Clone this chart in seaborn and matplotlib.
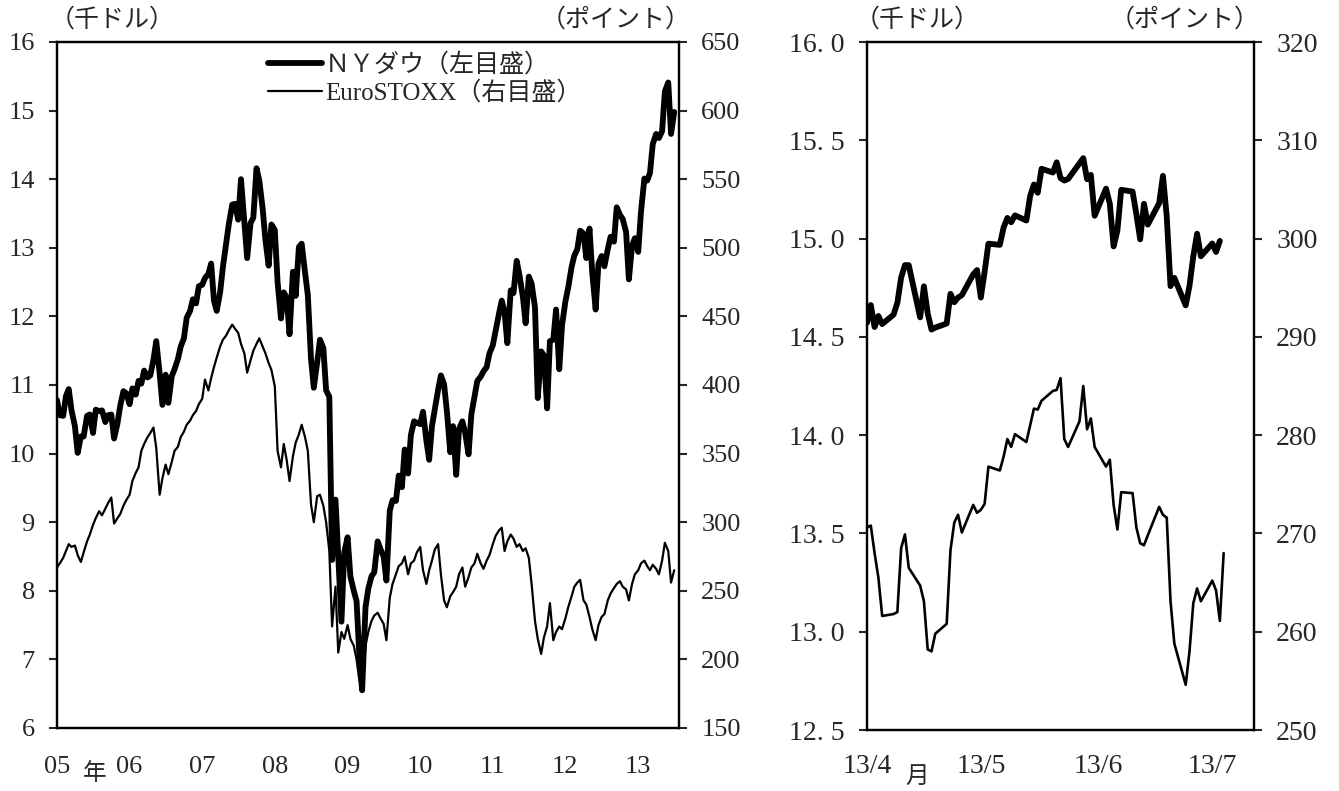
import matplotlib
matplotlib.use('Agg')
import matplotlib.pyplot as plt
import matplotlib.dates as mdates
import seaborn as sns
import pandas as pd

# ---- long view: semi-monthly points, 2005/1 - 2013/7 ----
# NY Dow (thousand dollars, left scale)
dow_2005 = [10.78, 10.56, 10.55, 10.84, 10.94, 10.63, 10.40, 10.01, 10.25, 10.25, 10.55, 10.57,
            10.30, 10.64, 10.62, 10.63, 10.46, 10.56, 10.57, 10.22, 10.44, 10.70, 10.91, 10.88]
dow_2006 = [10.72, 10.95, 10.86, 11.06, 11.02, 11.21, 11.11, 11.14, 11.37, 11.64, 11.17, 10.71,
            11.15, 10.74, 11.13, 11.23, 11.38, 11.56, 11.68, 11.98, 12.08, 12.25, 12.19, 12.44]
dow_2007 = [12.46, 12.56, 12.62, 12.77, 12.23, 12.08, 12.35, 12.72, 13.06, 13.35, 13.63, 13.64,
            13.41, 14.00, 13.36, 12.85, 13.36, 13.44, 14.16, 13.98, 13.57, 13.11, 12.74, 13.34]
dow_2008 = [13.26, 12.50, 11.97, 12.35, 12.27, 11.74, 12.65, 12.30, 13.01, 13.06, 12.64, 12.31,
            11.38, 10.96, 11.33, 11.66, 11.54, 10.92, 10.83, 8.45, 9.33, 8.50, 7.55, 8.56]
dow_2009 = [8.78, 8.21, 8.00, 7.85, 7.06, 6.55, 7.76, 8.03, 8.21, 8.27, 8.72, 8.61,
            8.50, 8.15, 9.17, 9.32, 9.31, 9.68, 9.51, 10.06, 9.71, 10.27, 10.47, 10.45]
dow_2010 = [10.43, 10.61, 10.19, 9.91, 10.40, 10.64, 10.93, 11.14, 11.01, 10.62, 10.02, 10.40,
            9.69, 10.36, 10.47, 10.30, 9.99, 10.57, 10.83, 11.06, 11.12, 11.20, 11.26, 11.46]
dow_2011 = [11.58, 11.79, 12.04, 12.23, 12.06, 11.61, 12.38, 12.34, 12.81, 12.60, 12.29, 11.90,
            12.58, 12.48, 12.13, 10.81, 11.49, 11.43, 10.66, 11.64, 11.66, 12.10, 11.23, 11.87]
dow_2012 = [12.22, 12.42, 12.72, 12.89, 12.98, 13.25, 13.21, 12.85, 13.28, 12.63, 12.10, 12.77,
            12.88, 12.73, 12.98, 13.16, 13.09, 13.59, 13.48, 13.42, 13.23, 12.54, 13.03, 13.14]
dow_2013 = [12.94, 13.53, 14.01, 13.98, 14.09, 14.51, 14.66, 14.60, 14.70, 15.28, 15.41, 14.66, 14.98]

# EuroSTOXX (points, right scale)
eu_2005 = [267, 270, 274, 279, 284, 282, 283, 276, 271, 278, 286, 291,
           298, 303, 308, 305, 310, 314, 318, 299, 303, 306, 312, 316]
eu_2006 = [320, 330, 336, 340, 352, 357, 362, 365, 369, 354, 320, 332,
           342, 335, 344, 352, 355, 362, 366, 371, 374, 378, 381, 386]
eu_2007 = [390, 404, 396, 405, 413, 420, 428, 433, 436, 440, 444, 441,
           438, 430, 423, 409, 418, 425, 430, 434, 428, 423, 416, 411]
eu_2008 = [399, 352, 340, 357, 345, 330, 348, 358, 364, 371, 362, 352,
           313, 300, 319, 320, 312, 300, 279, 224, 253, 205, 220, 215]
eu_2009 = [225, 215, 210, 200, 185, 177, 210, 220, 228, 232, 234, 230,
           226, 214, 245, 255, 262, 268, 270, 275, 262, 270, 272, 278]
eu_2010 = [282, 265, 255, 265, 272, 280, 284, 262, 243, 238, 246, 249,
           253, 262, 267, 253, 260, 267, 270, 277, 270, 266, 272, 276]
eu_2011 = [284, 290, 294, 296, 279, 286, 291, 288, 282, 284, 279, 281,
           274, 255, 228, 215, 204, 216, 224, 241, 214, 220, 224, 222]
eu_2012 = [230, 238, 246, 253, 256, 258, 243, 240, 231, 222, 214, 225,
           231, 233, 243, 248, 252, 255, 257, 253, 251, 243, 255, 262]
eu_2013 = [265, 270, 272, 268, 265, 269, 266, 262, 272, 285, 279, 256, 265]

# ---- short view: daily, 2013/4 - 2013/7 ----
dow_d_apr = [14.572, 14.662, 14.550, 14.606, 14.565, 14.613, 14.673, 14.802, 14.865, 14.865, 14.599,
             14.757, 14.619, 14.537, 14.547, 14.568, 14.719, 14.676, 14.700, 14.712, 14.818, 14.840]
dow_d_may = [14.700, 14.831, 14.974, 14.968, 15.056, 15.105, 15.083, 15.118, 15.092, 15.216, 15.275,
             15.233, 15.355, 15.336, 15.388, 15.308, 15.295, 15.303, 15.409, 15.302, 15.324, 15.116]
dow_d_jun = [15.254, 15.177, 14.960, 15.041, 15.248, 15.239, 15.123, 14.996, 15.177, 15.071,
             15.180, 15.319, 15.113, 14.758, 14.800, 14.660, 14.760, 14.910, 15.025, 14.910]
dow_d_jul = [14.975, 14.932, 14.988]

eu_d_apr = [270.6, 270.8, 268.0, 265.5, 261.6, 261.8, 262.0, 268.5, 269.9, 266.5, 264.7,
            263.1, 258.2, 258.0, 259.8, 260.8, 268.3, 271.1, 271.9, 270.1, 272.9, 272.1]
eu_d_may = [272.4, 273.0, 276.8, 276.4, 277.8, 279.6, 278.8, 280.1, 279.3, 281.0, 282.7, 282.6,
            283.5, 284.5, 284.6, 285.8, 279.6, 278.8, 281.4, 285.0, 280.6, 281.7, 278.8]
eu_d_jun = [276.8, 277.5, 272.9, 270.4, 274.2, 274.1, 270.6, 269.0, 268.8, 269.8,
            272.7, 271.9, 271.6, 263.1, 258.8, 254.6, 258.0, 262.9, 264.4, 263.1]
eu_d_jul = [265.2, 264.2, 261.1, 268.0]

# ---- tables ----
dow_long = dow_2005 + dow_2006 + dow_2007 + dow_2008 + dow_2009 + dow_2010 + dow_2011 + dow_2012 + dow_2013
eu_long = eu_2005 + eu_2006 + eu_2007 + eu_2008 + eu_2009 + eu_2010 + eu_2011 + eu_2012 + eu_2013
df_long = pd.DataFrame({
    'date': pd.date_range('2005-01-01', periods=len(dow_long), freq='SMS'),
    'dow': dow_long,
    'euro': eu_long,
})

us_days = pd.bdate_range('2013-04-01', '2013-07-03')
us_days = us_days[us_days != pd.Timestamp('2013-05-27')]
df_dow_d = pd.DataFrame({'date': us_days, 'dow': dow_d_apr + dow_d_may + dow_d_jun + dow_d_jul})
df_eu_d = pd.DataFrame({'date': pd.bdate_range('2013-04-01', '2013-07-04'),
                        'euro': eu_d_apr + eu_d_may + eu_d_jun + eu_d_jul})

# ---- figure ----
sns.set_style('white')
plt.rcParams['font.family'] = ['Liberation Serif', 'Noto Sans CJK JP', 'DejaVu Sans']
plt.rcParams['axes.linewidth'] = 1.6

W, H = 1339, 791
fig = plt.figure(figsize=(W / 100, H / 100), dpi=100)


def px_axes(x0, y0, x1, y1):
    return fig.add_axes([x0 / W, 1 - y1 / H, (x1 - x0) / W, (y1 - y0) / H])


def px_text(x, y, s, **kw):
    fig.text(x / W, 1 - y / H, s, va='center', **kw)


JP = ['Noto Sans CJK JP', 'DejaVu Sans']

# left panel: 2005 - 2013
ax = px_axes(57, 42, 679, 728)
ax_r = ax.twinx()
sns.lineplot(data=df_long, x='date', y='dow', ax=ax, color='black', linewidth=4.2, estimator=None)
sns.lineplot(data=df_long, x='date', y='euro', ax=ax_r, color='black', linewidth=1.6, estimator=None)

ax.set_xlim(pd.Timestamp('2005-01-01'), pd.Timestamp('2013-07-25'))
ax.set_ylim(6, 16)
ax.set_yticks(range(6, 17))
ax_r.set_ylim(150, 650)
ax_r.set_yticks(range(150, 651, 50))
ax.xaxis.set_major_locator(mdates.YearLocator())
ax.xaxis.set_major_formatter(mdates.DateFormatter('%y'))
ax.xaxis.set_minor_locator(mdates.MonthLocator())
for a in (ax, ax_r):
    a.set_xlabel('')
    a.set_ylabel('')
    a.tick_params(axis='y', direction='out', length=6, width=1.5, pad=10, labelsize=19)
ax.tick_params(axis='x', which='major', direction='in', length=8, width=1.5, pad=20, labelsize=19)
ax.tick_params(axis='x', which='minor', direction='out', length=4, width=1.1)

leg_handles = [ax.get_lines()[0], ax_r.get_lines()[0]]
ax_r.legend(leg_handles, ['ＮＹダウ（左目盛）', 'EuroSTOXX（右目盛）'],
            loc='upper left', bbox_to_anchor=(268 / W, 1 - 53 / H), bbox_transform=fig.transFigure,
            frameon=False, fontsize=18, handlelength=2.15, handletextpad=0.12,
            labelspacing=0.15, borderpad=0, borderaxespad=0)

px_text(50, 20, '（千ドル）', ha='left', fontsize=18, family=JP)
px_text(691, 20, '（ポイント）', ha='right', fontsize=18, family=JP)
px_text(95, 774, '年', ha='center', fontsize=17, family=JP)

# right panel: 2013/4 - 2013/7
ax2 = px_axes(867, 42, 1254, 730)
ax2_r = ax2.twinx()
sns.lineplot(data=df_dow_d, x='date', y='dow', ax=ax2, color='black', linewidth=4.2, estimator=None)
sns.lineplot(data=df_eu_d, x='date', y='euro', ax=ax2_r, color='black', linewidth=1.9, estimator=None)

ax2.set_xlim(pd.Timestamp('2013-04-01'), pd.Timestamp('2013-07-12'))
ax2.set_ylim(12.5, 16.0)
left_ticks = [12.5, 13.0, 13.5, 14.0, 14.5, 15.0, 15.5, 16.0]
ax2.set_yticks(left_ticks)
ax2.set_yticklabels([f'{v:.1f}'.replace('.', '. ') for v in left_ticks])
ax2_r.set_ylim(250, 320)
ax2_r.set_yticks(range(250, 321, 10))
month_starts = pd.to_datetime(['2013-04-01', '2013-05-01', '2013-06-01', '2013-07-01'])
ax2.set_xticks(month_starts)
ax2.set_xticklabels([f'{d:%y}/{d.month}' for d in month_starts])
for a in (ax2, ax2_r):
    a.set_xlabel('')
    a.set_ylabel('')
    a.tick_params(axis='y', direction='out', length=6, width=1.5, pad=10, labelsize=20)
ax2.tick_params(axis='x', direction='out', length=6, width=1.5, pad=11, labelsize=20)

px_text(855, 20, '（千ドル）', ha='left', fontsize=18, family=JP)
px_text(1260, 20, '（ポイント）', ha='right', fontsize=18, family=JP)
px_text(917, 776, '月', ha='center', fontsize=17, family=JP)

for a in (ax, ax_r, ax2, ax2_r):
    for s in a.spines.values():
        s.set_color('black')
        s.set_linewidth(1.6)

fig.savefig('out.png', dpi=100, facecolor='white')
